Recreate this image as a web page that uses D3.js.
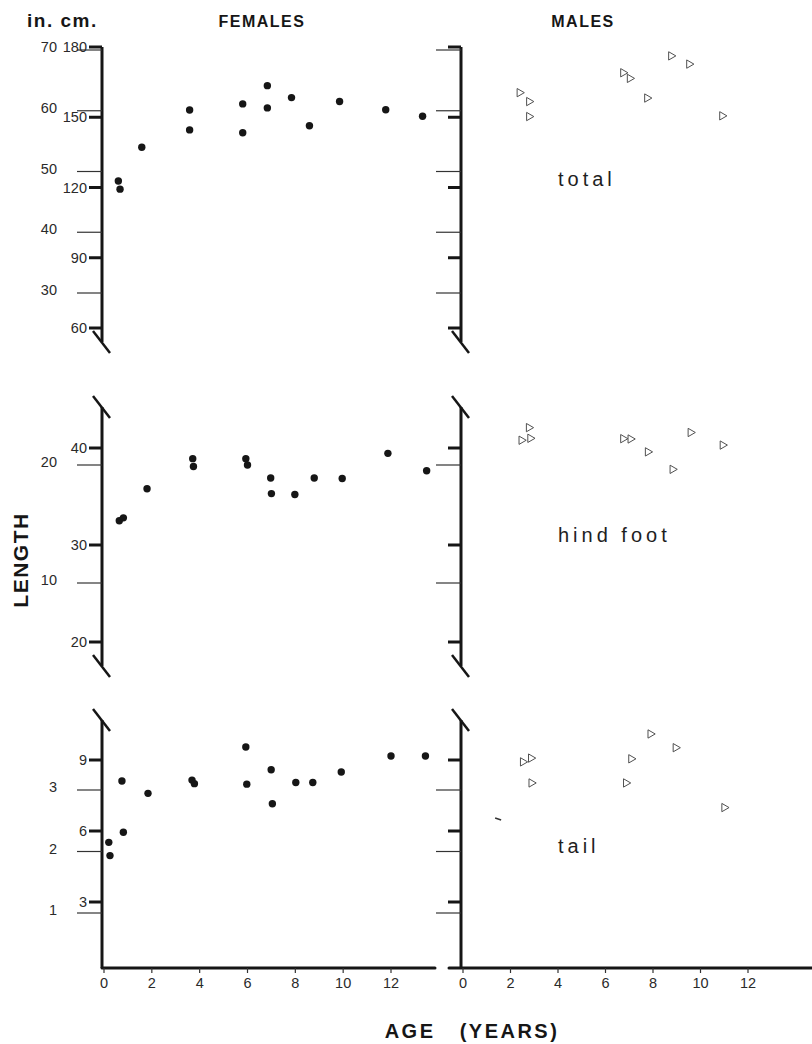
<!DOCTYPE html>
<html lang="en">
<head>
<meta charset="UTF-8">
<title>Length by age</title>
<style>
  html, body { margin: 0; padding: 0; background: #fff; }
  svg { display: block; font-family: "Liberation Sans", Arial, sans-serif; }
</style>
</head>
<body>
<div id="wrapper"></div>
<script src="https://d3js.org/d3.v7.min.js"></script>
<script>
// values: [age in years, length in cm]
const femaleTotal = [[0.6, 122.8], [0.67, 119.3], [1.58, 137.2], [3.58, 153.1], [3.58, 144.6],
  [5.8, 155.7], [5.8, 143.4], [6.83, 163.5], [6.83, 154], [7.84, 158.4], [8.59, 146.4],
  [9.85, 156.7], [11.78, 153.2], [13.32, 150.4]];
const maleTotal = [[2.38, 160.5], [2.78, 156.7], [2.78, 150.3], [6.74, 169], [7.02, 166.6],
  [7.75, 158.2], [8.76, 176.2], [9.52, 172.7], [10.91, 150.6]];

const femaleHind = [[0.64, 32.5], [0.81, 32.8], [1.8, 35.8], [3.71, 38.9], [3.74, 38.1],
  [5.93, 38.9], [6.0, 38.25], [6.97, 36.9], [7.0, 35.3], [7.98, 35.2], [8.79, 36.9],
  [9.96, 36.85], [11.87, 39.45], [13.49, 37.66]];
const maleHind = [[2.77, 42.1], [2.46, 40.8], [2.83, 41.0], [6.74, 40.96], [7.05, 40.93],
  [7.78, 39.6], [8.82, 37.8], [9.58, 41.6], [10.93, 40.3]];

const femaleTail = [[0.2, 5.52], [0.25, 4.96], [0.75, 8.11], [0.81, 5.95], [1.84, 7.59],
  [3.68, 8.15], [3.78, 8.0], [5.93, 9.55], [5.97, 7.98], [6.99, 8.59], [7.04, 7.15],
  [8.02, 8.05], [8.73, 8.05], [9.92, 8.49], [12.0, 9.17], [13.44, 9.17]];
const maleTail = [[2.52, 8.92], [2.86, 9.08], [2.88, 8.03], [6.86, 8.03], [7.08, 9.05],
  [7.89, 10.1], [8.95, 9.52], [11.0, 6.99]];
const maleTailStray = [[1.48, 6.51]];

// tick labels
const totalCmTicks = [60, 90, 120, 150, 180];
const totalInTicks = [30, 40, 50, 60, 70];
const hindCmTicks = [20, 30, 40];
const hindInTicks = [10, 20];
const tailCmTicks = [3, 6, 9];
const tailInTicks = [1, 2, 3];
const ageTicks = [0, 2, 4, 6, 8, 10, 12];

const W = 812, H = 1044;
const ink = '#161616';
const svg = d3.select('#wrapper').append('svg').attr('width', W).attr('height', H);

const fX = d3.scaleLinear().domain([0, 12]).range([104, 391]);
const mX = d3.scaleLinear().domain([0, 12]).range([463, 748]);
const axisF = 102, axisM = 461, baseY = 968;

const panels = [
  { label: 'total', labelY: 186, top: 47, bottom: 342, topBreak: false, bottomBreak: true,
    cm: d3.scaleLinear().domain([60, 180]).range([328, 47]),
    inch: d3.scaleLinear().domain([30, 70]).range([293, 50]),
    cmTicks: totalCmTicks, inTicks: totalInTicks, female: femaleTotal, male: maleTotal, stray: [] },
  { label: 'hind foot', labelY: 542, top: 407, bottom: 666, topBreak: true, bottomBreak: true,
    cm: d3.scaleLinear().domain([20, 40]).range([642, 448]),
    inch: d3.scaleLinear().domain([10, 20]).range([583, 465]),
    cmTicks: hindCmTicks, inTicks: hindInTicks, female: femaleHind, male: maleHind, stray: [] },
  { label: 'tail', labelY: 853, top: 720, bottom: baseY, topBreak: true, bottomBreak: false,
    cm: d3.scaleLinear().domain([3, 9]).range([902, 760]),
    inch: d3.scaleLinear().domain([1, 3]).range([913, 790]),
    cmTicks: tailCmTicks, inTicks: tailInTicks, female: femaleTail, male: maleTail, stray: maleTailStray }
];

const tri = d3.symbol().type(d3.symbolTriangle).size(30);

function drawBreak(g, x, y) {
  g.append('line').attr('x1', x - 9).attr('y1', y - 11).attr('x2', x + 8).attr('y2', y + 11)
    .attr('stroke', ink).attr('stroke-width', 2.5);
}

panels.forEach(p => {
  [{ ax: axisF, xs: fX, data: p.female, labels: true, sex: 'f' },
   { ax: axisM, xs: mX, data: p.male, labels: false, sex: 'm' }].forEach(side => {
    const g = svg.append('g');
    // y axis line
    g.append('line').attr('x1', side.ax).attr('x2', side.ax)
      .attr('y1', p.top).attr('y2', p.bottom)
      .attr('stroke', ink).attr('stroke-width', 3);
    if (p.topBreak) drawBreak(g, side.ax, p.top);
    if (p.bottomBreak) drawBreak(g, side.ax, p.bottom);

    // inch ticks: thin and long
    g.selectAll('.in').data(p.inTicks).join('line')
      .attr('x1', side.ax - 25).attr('x2', side.ax)
      .attr('y1', d => p.inch(d)).attr('y2', d => p.inch(d))
      .attr('stroke', '#333').attr('stroke-width', 1.2);
    // cm ticks: short and heavy
    g.selectAll('.cm').data(p.cmTicks).join('line')
      .attr('x1', side.ax - 13).attr('x2', side.ax)
      .attr('y1', d => p.cm(d)).attr('y2', d => p.cm(d))
      .attr('stroke', ink).attr('stroke-width', 3);

    if (side.labels) {
      g.selectAll('.cmlab').data(p.cmTicks).join('text')
        .attr('x', side.ax - 15).attr('y', d => p.cm(d))
        .attr('dy', '0.35em').attr('text-anchor', 'end')
        .attr('font-size', 14.5).attr('fill', '#2a2a2a').text(d => d);
      g.selectAll('.inlab').data(p.inTicks).join('text')
        .attr('x', 57).attr('y', d => p.inch(d) - 3)
        .attr('dy', '0.35em').attr('text-anchor', 'end')
        .attr('font-size', 14.5).attr('fill', '#2a2a2a').text(d => d);
    }

    // marks
    if (side.sex === 'f') {
      g.selectAll('circle').data(side.data).join('circle')
        .attr('cx', d => side.xs(d[0])).attr('cy', d => p.cm(d[1]))
        .attr('r', 3.7).attr('fill', ink);
    } else {
      g.selectAll('path.tri').data(side.data).join('path').attr('class', 'tri')
        .attr('d', tri)
        .attr('transform', d => `translate(${side.xs(d[0])},${p.cm(d[1])}) rotate(90)`)
        .attr('fill', '#fff').attr('stroke', '#505050').attr('stroke-width', 1);
      g.selectAll('line.stray').data(p.stray).join('line').attr('class', 'stray')
        .attr('x1', d => side.xs(d[0]) - 3).attr('x2', d => side.xs(d[0]) + 3)
        .attr('y1', d => p.cm(d[1]) - 1).attr('y2', d => p.cm(d[1]) + 1)
        .attr('stroke', '#333').attr('stroke-width', 1.5);
    }
  });

  svg.append('text').attr('x', 558).attr('y', p.labelY)
    .attr('font-size', 20).attr('letter-spacing', 4).attr('fill', '#1e1e1e')
    .text(p.label);
});

// x axes
[{ xs: fX, x1: axisF, x2: 435 }, { xs: mX, x1: 449, x2: W }].forEach(a => {
  const g = svg.append('g');
  g.append('line').attr('x1', a.x1).attr('x2', a.x2).attr('y1', baseY).attr('y2', baseY)
    .attr('stroke', ink).attr('stroke-width', 3).attr('stroke-linecap', 'round');
  g.selectAll('.tk').data(ageTicks).join('line')
    .attr('x1', d => a.xs(d)).attr('x2', d => a.xs(d))
    .attr('y1', baseY).attr('y2', baseY + 5)
    .attr('stroke', '#333').attr('stroke-width', 1.2);
  g.selectAll('text').data(ageTicks).join('text')
    .attr('x', d => a.xs(d)).attr('y', baseY + 15).attr('dy', '0.35em')
    .attr('text-anchor', 'middle').attr('font-size', 14.5).attr('fill', '#2a2a2a')
    .text(d => d);
});

// titles
svg.append('text').attr('x', 27).attr('y', 27).attr('font-size', 19).attr('font-weight', 'bold')
  .attr('letter-spacing', 1.5).attr('fill', ink).text('in. cm.');
svg.append('text').attr('x', 262).attr('y', 27).attr('text-anchor', 'middle')
  .attr('font-size', 16).attr('font-weight', 'bold').attr('letter-spacing', 1.5)
  .attr('fill', ink).text('FEMALES');
svg.append('text').attr('x', 583).attr('y', 27).attr('text-anchor', 'middle')
  .attr('font-size', 16).attr('font-weight', 'bold').attr('letter-spacing', 1.5)
  .attr('fill', ink).text('MALES');
svg.append('text').attr('transform', 'translate(28,560) rotate(-90)')
  .attr('text-anchor', 'middle').attr('font-size', 21).attr('font-weight', 'bold')
  .attr('letter-spacing', 1.5).attr('fill', ink).text('LENGTH');
svg.append('text').attr('x', 472).attr('y', 1038).attr('text-anchor', 'middle')
  .attr('font-size', 20).attr('font-weight', 'bold').attr('letter-spacing', 2.5)
  .attr('fill', ink).style('white-space', 'pre').text('AGE   (YEARS)');
</script>
</body>
</html>
